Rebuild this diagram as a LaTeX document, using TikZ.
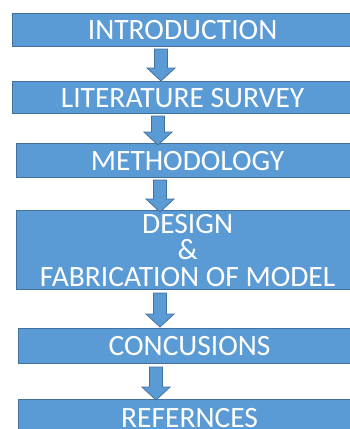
\documentclass[tikz,border=0pt]{standalone}
\usepackage{fontspec}
\setmainfont{Carlito}
\definecolor{boxblue}{HTML}{5B9BD5}
\definecolor{edgeblue}{HTML}{41719C}
\newcommand\blkarrow[3]{%
  \path[flowarrow] ({#1-6.5},#2) -- ({#1+6.5},#2) -- ({#1+6.5},{#3-13}) -- ({#1+14},{#3-13}) -- (#1,#3) -- ({#1-14},{#3-13}) -- ({#1-6.5},{#3-13}) -- cycle;}
\begin{document}
\begin{tikzpicture}[x=1pt,y=-1pt,
  stage/.style={draw=edgeblue, line width=1.2pt, fill=boxblue, text=white,
    anchor=north west, inner sep=0pt, minimum width=342pt,
    font=\fontsize{29.5}{26.5}\selectfont, align=center},
  flowarrow/.style={draw=edgeblue, line width=0.8pt, fill=boxblue}]
\useasboundingbox (0,0) rectangle (350,429);
\clip (0,0) rectangle (350,429);
\node[stage, minimum width=340pt, minimum height=33pt] (b1) at (12,13) {INTRODUCTION};
\node[stage, minimum width=340pt, minimum height=32pt] (b2) at (12,81) {LITERATURE SURVEY};
\node[stage, minimum height=34pt] (b3) at (16,143) {METHODOLOGY};
\node[stage, minimum height=79pt] (b4) at (16,210) {DESIGN\\\&\\FABRICATION OF MODEL};
\node[stage, minimum height=35pt] (b5) at (18,328) {CONCUSIONS};
\node[stage, minimum height=36pt] (b6) at (18,399) {REFERNCES};
\blkarrow{161}{49}{81}
\blkarrow{158}{116}{145}
\blkarrow{160}{180}{212}
\blkarrow{160}{293}{327}
\blkarrow{156}{367}{400}
\end{tikzpicture}
\end{document}
